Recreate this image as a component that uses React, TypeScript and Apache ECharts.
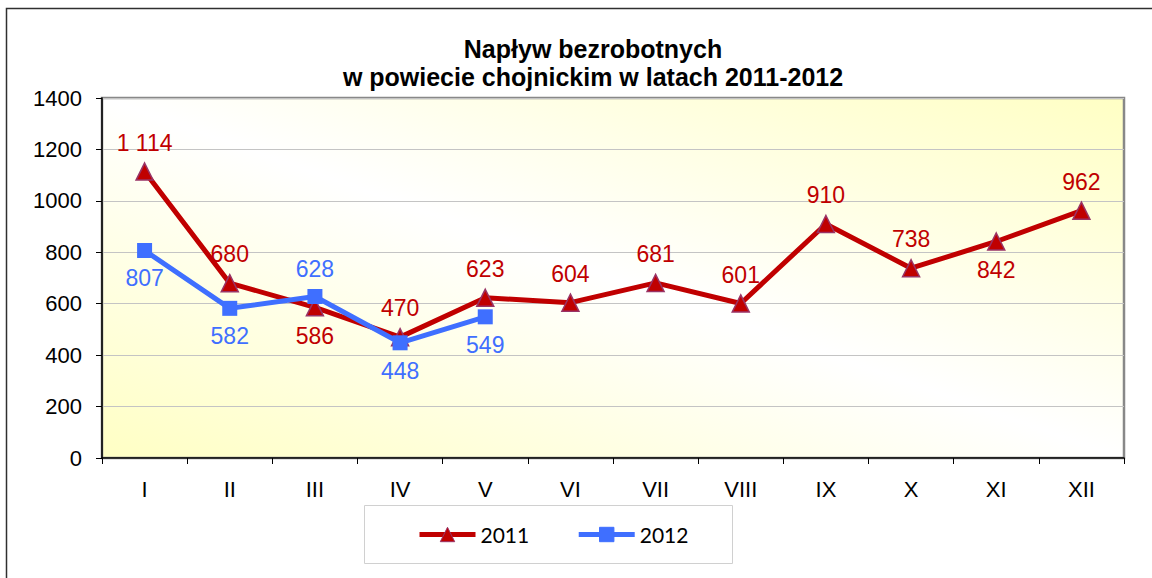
import React, { useEffect, useRef } from "react";
import * as echarts from "echarts";

const months = ["I", "II", "III", "IV", "V", "VI", "VII", "VIII", "IX", "X", "XI", "XII"];
const values2011 = [1114, 680, 586, 470, 623, 604, 681, 601, 910, 738, 842, 962];
const values2012 = [807, 582, 628, 448, 549];
const labelPos2011 = ["top", "top", "bottom", "top", "top", "top", "top", "top", "top", "top", "bottom", "top"];
const labelPos2012 = ["bottom", "bottom", "top", "bottom", "bottom"];
const yTicks = { min: 0, max: 1400, interval: 200 };

const fmt = (v: number) => {
  const s = String(Math.round(v));
  return s.replace(/\B(?=(\d{3})+(?!\d))/g, " ");
};

export default function App() {
  const ref = useRef<HTMLDivElement>(null);
  useEffect(() => {
    if (!ref.current) return;
    const chart = echarts.init(ref.current, undefined, { renderer: "svg" });
    const red = "#C00000";
    const blue = "#3F6FFF";
    const bg = new echarts.graphic.LinearGradient(
      500, 598, 726, -42,
      [
        { offset: 0, color: "#FFFFC4" },
        { offset: 0.5, color: "#FFFFFF" },
        { offset: 1, color: "#FFFFC4" },
      ],
      true
    );
    chart.setOption({
      animation: false,
      backgroundColor: "#FFFFFF",
      textStyle: { fontFamily: "Liberation Sans, Arial, sans-serif" },
      title: {
        text: "Napływ bezrobotnych\nw powiecie chojnickim w latach 2011-2012",
        left: 588,
        textAlign: "center",
        top: 30,
        textStyle: { fontSize: 25, fontWeight: "bold", color: "#000", lineHeight: 28, fontFamily: "Liberation Sans, Arial, sans-serif" },
      },
      graphic: [
        {
          type: "rect",
          shape: { x: 6.5, y: 8.5, width: 1300, height: 700 },
          style: { fill: "none", stroke: "#303030", lineWidth: 1.5 },
          z: 100,
        },
        {
          type: "rect",
          shape: { x: 364.5, y: 505.5, width: 368, height: 58 },
          style: { fill: "none", stroke: "#D0D0D0", lineWidth: 1 },
          z: 100,
        },
      ],
      legend: {
        left: 417,
        top: 524,
        padding: 0,
        itemWidth: 56,
        itemHeight: 18,
        itemGap: 47,
        lineStyle: { width: 5 },
        itemStyle: { borderWidth: 1 },
        textStyle: { fontSize: 21, color: "#000", fontFamily: "Lato, Liberation Sans, sans-serif", padding: [0, 0, 0, 0] },
        data: ["2011", "2012"],
      },
      grid: {
        left: 102,
        top: 98,
        right: 28,
        bottom: 120,
        show: true,
        borderColor: "#888888",
        borderWidth: 2.5,
        backgroundColor: bg,
      },
      xAxis: {
        type: "category",
        data: months,
        boundaryGap: true,
        axisLine: { show: true, lineStyle: { color: "#000", width: 1.5 } },
        axisTick: { show: true, length: 6, alignWithLabel: false, lineStyle: { color: "#000" } },
        axisLabel: { color: "#000", fontSize: 22, margin: 20 },
        splitLine: { show: false },
      },
      yAxis: {
        type: "value",
        min: yTicks.min,
        max: yTicks.max,
        interval: yTicks.interval,
        axisLine: { show: true, lineStyle: { color: "#000", width: 1.5 } },
        axisTick: { show: true, length: 6, lineStyle: { color: "#000" } },
        axisLabel: { color: "#000", fontSize: 22, margin: 20, formatter: (v: number) => String(v) },
        splitLine: { show: true, lineStyle: { color: "#C4C4C4", width: 1 } },
      },
      series: [
        {
          name: "2011",
          type: "line",
          data: values2011.map((v, i) => ({ value: v, label: { position: labelPos2011[i] } })),
          symbol: "triangle",
          symbolSize: 17,
          lineStyle: { color: red, width: 5 },
          itemStyle: { color: red, borderColor: "#993366", borderWidth: 1.5 },
          label: {
            show: true,
            color: red,
            fontSize: 23,
            distance: 8,
            formatter: (p: any) => fmt(p.value),
          },
          z: 2,
        },
        {
          name: "2012",
          type: "line",
          data: values2012.map((v, i) => ({ value: v, label: { position: labelPos2012[i] } })),
          symbol: "rect",
          symbolSize: 15,
          lineStyle: { color: blue, width: 5 },
          itemStyle: { color: blue, borderColor: blue, borderWidth: 0 },
          label: {
            show: true,
            color: blue,
            fontSize: 23,
            distance: 9,
            formatter: (p: any) => fmt(p.value),
          },
          z: 3,
        },
      ],
    });
    return () => chart.dispose();
  }, []);
  return (
    <div
      ref={ref}
      style={{ position: "fixed", left: 0, top: 0, width: 1152, height: 578 }}
    />
  );
}
